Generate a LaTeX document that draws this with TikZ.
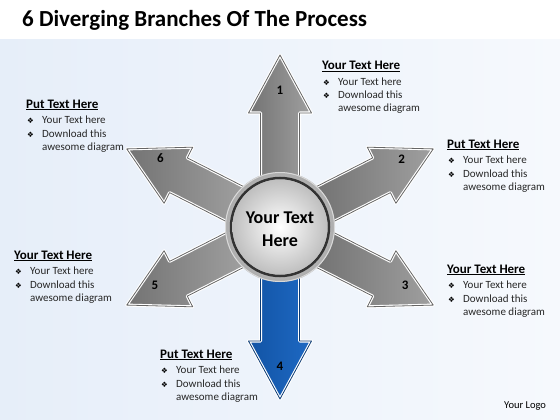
\documentclass[tikz,border=0pt]{standalone}
\usepackage{fontspec}
\setmainfont{Carlito}
\newfontfamily\djv{DejaVu Sans}
\usetikzlibrary{calc}
\definecolor{bgblueA}{RGB}{230,238,249}
\definecolor{bgblueB}{RGB}{246,249,253}
\definecolor{blueD}{RGB}{18,84,165}
\definecolor{blueM}{RGB}{80,150,225}
\definecolor{blueR}{RGB}{30,105,195}
\newcommand\branch[3]{%
  \begin{scope}[shift={(280pt,-227pt)},x=1pt,y=1pt,rotate=#1]
    \path[#2] (50,-19.5) -- (114,-19.5) -- (114,-31.5) -- (172,0) -- (114,31.5) -- (114,19.5) -- (50,19.5) -- cycle;
    \draw[#3, line width=0.8pt, line join=round] (50,-19.5) -- (114,-19.5) -- (114,-31.5) -- (172,0) -- (114,31.5) -- (114,19.5) -- (50,19.5) -- cycle;
  \end{scope}}
\newcommand\tblock[4]{%
  \node[headtxt] (#1h) at (#2,#3) {\underline{#4}};
  \node[bultxt] (#1b1) at (#2+1,#3+15) {❖};
  \node[bodytxt] (#1t1) at (#2+16,#3+15) {Your Text here};
  \node[bultxt] (#1b2) at (#2+1,#3+29) {❖};
  \node[bodytxt] (#1t2) at (#2+16,#3+29) {Download this};
  \node[bodytxt] (#1t3) at (#2+16,#3+42) {awesome diagram};}
\begin{document}
\begin{tikzpicture}[x=1pt,y=-1pt,
  headtxt/.style={anchor=base west,inner sep=0pt,font=\fontsize{13}{15}\selectfont\bfseries},
  bodytxt/.style={anchor=base west,inner sep=0pt,font=\fontsize{11}{13}\selectfont,text=black!85},
  bultxt/.style={anchor=base west,inner sep=0pt,font=\djv\fontsize{7.5}{9}\selectfont},
  numtxt/.style={font=\fontsize{13}{15}\selectfont\bfseries,inner sep=0pt},
  grayarrow/.style={left color=gray!90!black, middle color=gray!30, right color=gray!75, draw=white, line width=3pt, line join=round},
  bluearrow/.style={left color=blueD, middle color=blueM, right color=blueR, draw=white, line width=3pt, line join=round}]
\useasboundingbox (0,0) rectangle (560,420);
\fill[white] (0,0) rectangle (560,40);
\shade[left color=bgblueA, right color=bgblueB] (0,40) rectangle (560,420);
\node[anchor=base west,inner sep=0pt,font=\fontsize{23}{27}\selectfont\bfseries] (title) at (22,27) {6 Diverging Branches Of The Process};
\coordinate (c) at (280,227);
% arrows
\branch{90}{grayarrow}{black!60}
\branch{27}{grayarrow}{black!60}
\branch{-27}{grayarrow}{black!60}
\branch{-90}{bluearrow}{blueD!70!black}
\branch{207}{grayarrow}{black!60}
\branch{153}{grayarrow}{black!60}
% hub
\shade[inner color=gray!20, outer color=gray!65] (c) circle (55pt);
\draw[white!70!gray, line width=1pt] (c) circle (54.5pt);
\draw[black!80, line width=2.5pt] (c) circle (49pt);
\shade[inner color=white, outer color=gray!50] (c) circle (47.5pt);
\node[font=\fontsize{18}{23}\selectfont\bfseries, align=center] (ctext) at (280,229) {Your Text\\Here};
% numbers
\node[numtxt] (n1) at ([shift={(90:137pt)}]c) {1};
\node[numtxt] (n2) at ([shift={(29:139pt)}]c) {2};
\node[numtxt] (n3) at ([shift={(-25:138pt)}]c) {3};
\node[numtxt] (n4) at ([shift={(-90:139pt)}]c) {4};
\node[numtxt] (n5) at ([shift={(205:138pt)}]c) {5};
\node[numtxt] (n6) at ([shift={(150:138pt)}]c) {6};
% text blocks
\tblock{TR}{322}{70}{Your Text Here}
\tblock{TL}{26}{108}{Put Text Here}
\tblock{RM}{447}{148}{Put Text Here}
\tblock{LM}{14}{259}{Your Text Here}
\tblock{RL}{447}{273}{Your Text Here}
\tblock{BT}{160}{358}{Put Text Here}
\node[anchor=base west,inner sep=0pt,font=\fontsize{10.5}{12}\selectfont] (logo) at (504,408) {Your Logo};
\end{tikzpicture}
\end{document}
